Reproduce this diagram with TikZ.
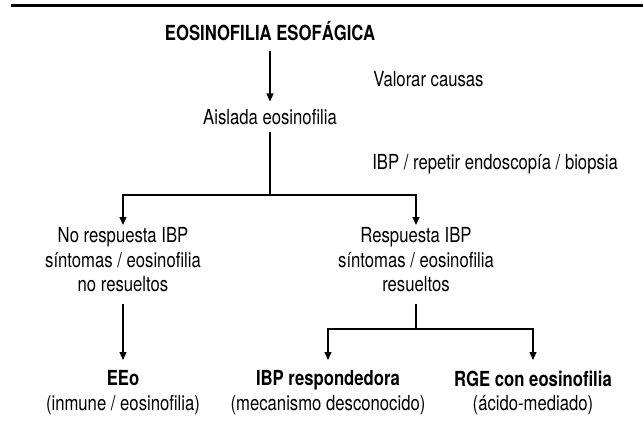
\documentclass[tikz,border=0pt]{standalone}
\usepackage{fontspec}
\setmainfont{TeX Gyre Heros}[FakeStretch=0.805]
\usetikzlibrary{arrows.meta}

\begin{document}
\begin{tikzpicture}[
	txt/.style={font=\fontsize{11.8pt}{14pt}\selectfont, inner xsep=0pt},
	cabeza/.style={txt, font=\fontsize{11.8pt}{14pt}\selectfont\bfseries},
	rama/.style={txt, align=center, anchor=north, inner ysep=0.04cm},
	final/.style={txt, align=center, anchor=north, inner ysep=0.21cm},
	flecha/.style={line width=0.7pt, -{Triangle[length=0.16cm,width=0.14cm]}},
	linea/.style={line width=0.7pt}]
			%%%%% START %%%%%
			
			\useasboundingbox (0, 0) rectangle (12.86, 8.62);
			\fill[black] (0.22, 8.48) rectangle (12.86, 8.54);
			
			\node[cabeza, anchor=base, inner ysep=0.2cm] (titulo) at (5.4, 7.82) {EOSINOFILIA ESOFÁGICA};
			\node[txt, anchor=base, inner ysep=0.14cm] (aislada) at (5.4, 6.14) {Aislada eosinofilia};
			
			\node[txt, anchor=base west, inner sep=0pt] (valorar) at (7.46, 6.9) {Valorar causas};
			\node[txt, anchor=base west, inner sep=0pt] (repetir) at (7.44, 5.23) {IBP / repetir endoscopía / biopsia};
			
			\coordinate (j1) at (5.4, 4.72);
			\node[rama] (noresp) at (2.46, 4.12) {No respuesta IBP\\síntomas / eosinofilia\\no resueltos};
			\node[rama] (resp) at (8.32, 4.12) {Respuesta IBP\\síntomas / eosinofilia\\resueltos};
			
			\coordinate (j2) at (8.32, 2.04);
			\node[final] (eeo) at (2.46, 1.42) {\textbf{EEo}\\(inmune / eosinofilia)};
			\node[final] (ibpr) at (6.56, 1.42) {\textbf{IBP respondedora}\\(mecanismo desconocido)};
			\node[final] (rge) at (10.66, 1.42) {\textbf{RGE con eosinofilia}\\(ácido-mediado)};
			
			\draw[flecha] (titulo) -- (aislada);
			\draw[linea] (aislada) -- (j1);
			\draw[flecha] (j1) -| (noresp);
			\draw[flecha] (j1) -| (resp);
			
			\draw[flecha, shorten <=0.2cm] (noresp) -- (eeo);
			\draw[linea, shorten <=0.2cm] (resp) -- (j2);
			\draw[flecha] (j2) -| (ibpr);
			\draw[flecha] (j2) -| (rge);
			
			%%%%% END %%%%%
\end{tikzpicture}
\end{document}
